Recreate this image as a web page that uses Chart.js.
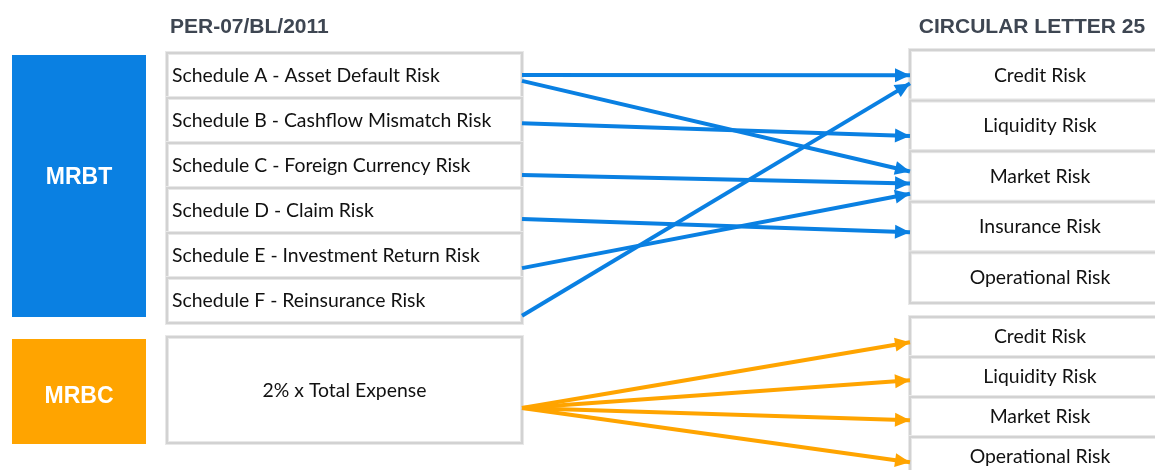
<!DOCTYPE html>
<html>
<head>
<meta charset="utf-8">
<script src="https://cdn.jsdelivr.net/npm/chart.js@4.4.1/dist/chart.umd.min.js"></script>
<style>
html,body{margin:0;padding:0;background:#fff;}
#wrap{width:1155px;height:470px;}
</style>
</head>
<body>
<div id="wrap"><canvas id="c" width="1155" height="470"></canvas></div>
<script>
// ---- data ----
const leftTitle = 'PER-07/BL/2011';
const rightTitle = 'CIRCULAR LETTER 25';
const groupLabels = ['MRBT', 'MRBC'];
const schedules = [
  'Schedule A - Asset Default Risk',
  'Schedule B - Cashflow Mismatch Risk',
  'Schedule C - Foreign Currency Risk',
  'Schedule D - Claim Risk',
  'Schedule E - Investment Return Risk',
  'Schedule F - Reinsurance Risk'
];
const mrbcItems = ['2% x Total Expense'];
const mrbtRisks = ['Credit Risk', 'Liquidity Risk', 'Market Risk', 'Insurance Risk', 'Operational Risk'];
const mrbcRisks = ['Credit Risk', 'Liquidity Risk', 'Market Risk', 'Operational Risk'];
// links: source row -> target row, with anchor position inside each row (0 = top, 1 = bottom)
const mrbtLinkFrom = [0, 0, 1, 2, 3, 4, 5];
const mrbtLinkTo   = [0, 2, 1, 2, 3, 2, 0];
const mrbtFromPos  = [0.49, 0.62, 0.56, 0.71, 0.69, 0.78, 0.84];
const mrbtToPos    = [0.50, 0.40, 0.70, 0.64, 0.60, 0.84, 0.66];
const mrbcLinkFrom = [0, 0, 0, 0];
const mrbcLinkTo   = [0, 1, 2, 3];
const mrbcFromPos  = [0.67, 0.67, 0.67, 0.67];
const mrbcToPos    = [0.63, 0.58, 0.58, 0.63];

// ---- layout (value space of the hidden axes) ----
const L = {
  groupX0: 12, groupX1: 146,
  mrbtY0: 55, mrbtY1: 317, mrbtLabelY: 178,
  mrbcY0: 339, mrbcY1: 444, mrbcLabelY: 397,
  leftX0: 167, leftX1: 522,
  leftTop: 53, leftRowH: 45,
  mrbcBoxY0: 337, mrbcBoxY1: 443,
  rightX0: 910, rightX1: 1162,
  rightTop: 50, rightRowH: 50.6,
  right2Top: 317, right2RowH: 40,
  arrowTipX: 910
};
const BLUE = '#0a80e2';
const ORANGE = '#ffa400';

function leftRowY(i, p){ return L.leftTop + (i + p) * L.leftRowH; }
function rightRowY(i, p){ return L.rightTop + (i + p) * L.rightRowH; }
function right2RowY(i, p){ return L.right2Top + (i + p) * L.right2RowH; }
function mrbcBoxY(p){ return L.mrbcBoxY0 + p * (L.mrbcBoxY1 - L.mrbcBoxY0); }

const datasets = [];
mrbtLinkFrom.forEach((s, k) => {
  datasets.push({
    data: [{x: L.leftX1, y: leftRowY(s, mrbtFromPos[k])}, {x: L.arrowTipX, y: rightRowY(mrbtLinkTo[k], mrbtToPos[k])}],
    borderColor: BLUE, backgroundColor: BLUE, borderWidth: 4, pointRadius: 0, showLine: true, arrow: true
  });
});
mrbcLinkFrom.forEach((s, k) => {
  datasets.push({
    data: [{x: L.leftX1, y: mrbcBoxY(mrbcFromPos[k])}, {x: L.arrowTipX, y: right2RowY(mrbcLinkTo[k], mrbcToPos[k])}],
    borderColor: ORANGE, backgroundColor: ORANGE, borderWidth: 4, pointRadius: 0, showLine: true, arrow: true
  });
});

const BOX_FONT = '19.4px Lato';
const diagramPlugin = {
  id: 'diagram',
  beforeDatasetsDraw(chart){
    const {ctx, scales:{x, y}} = chart;
    const px = v => x.getPixelForValue(v), py = v => y.getPixelForValue(v);
    ctx.save();
    function box(x0, y0, x1, y1){
      const X0 = px(x0), Y0 = py(y0), X1 = px(x1), Y1 = py(y1);
      ctx.fillStyle = '#fff';
      ctx.fillRect(X0, Y0, X1 - X0, Y1 - Y0);
      ctx.strokeStyle = '#e8e8e8'; ctx.lineWidth = 4;
      ctx.strokeRect(X0, Y0, X1 - X0, Y1 - Y0);
      ctx.strokeStyle = '#d2d2d2'; ctx.lineWidth = 2;
      ctx.strokeRect(X0, Y0, X1 - X0, Y1 - Y0);
    }
    // group blocks
    ctx.fillStyle = BLUE;
    ctx.fillRect(px(L.groupX0), py(L.mrbtY0), px(L.groupX1) - px(L.groupX0), py(L.mrbtY1) - py(L.mrbtY0));
    ctx.fillStyle = ORANGE;
    ctx.fillRect(px(L.groupX0), py(L.mrbcY0), px(L.groupX1) - px(L.groupX0), py(L.mrbcY1) - py(L.mrbcY0));
    ctx.fillStyle = '#fff';
    ctx.font = 'bold 23px "Liberation Sans", Arial, sans-serif';
    ctx.textAlign = 'center'; ctx.textBaseline = 'middle';
    const gx = px((L.groupX0 + L.groupX1) / 2);
    ctx.fillText(groupLabels[0], gx, py(L.mrbtLabelY));
    ctx.fillText(groupLabels[1], gx, py(L.mrbcLabelY));
    // titles
    ctx.fillStyle = '#3e4652';
    ctx.font = 'bold 21px "Liberation Sans", Arial, sans-serif';
    ctx.textAlign = 'left';
    ctx.fillText(leftTitle, px(170), py(27));
    ctx.textAlign = 'center';
    ctx.fillText(rightTitle, px(1032), py(27));
    // left boxes
    schedules.forEach((s, i) => box(L.leftX0, leftRowY(i, 0), L.leftX1, leftRowY(i, 1)));
    box(L.leftX0, L.mrbcBoxY0, L.leftX1, L.mrbcBoxY1);
    // right boxes
    mrbtRisks.forEach((s, i) => box(L.rightX0, rightRowY(i, 0), L.rightX1, rightRowY(i, 1)));
    mrbcRisks.forEach((s, i) => box(L.rightX0, right2RowY(i, 0), L.rightX1, right2RowY(i, 1)));
    // texts
    ctx.fillStyle = '#111';
    ctx.font = BOX_FONT;
    ctx.textAlign = 'left';
    schedules.forEach((s, i) => ctx.fillText(s, px(L.leftX0 + 5), py(leftRowY(i, 0.5))));
    ctx.textAlign = 'center';
    ctx.fillText(mrbcItems[0], px((L.leftX0 + L.leftX1) / 2), py((L.mrbcBoxY0 + L.mrbcBoxY1) / 2 + 1));
    mrbtRisks.forEach((s, i) => ctx.fillText(s, px(1040), py(rightRowY(i, 0.5))));
    mrbcRisks.forEach((s, i) => ctx.fillText(s, px(1040), py(right2RowY(i, 0.5))));
    ctx.restore();
  },
  afterDatasetsDraw(chart){
    const ctx = chart.ctx;
    ctx.save();
    chart.data.datasets.forEach((ds, i) => {
      if (!ds.arrow) return;
      const pts = chart.getDatasetMeta(i).data;
      const a = pts[pts.length - 2], b = pts[pts.length - 1];
      const ang = Math.atan2(b.y - a.y, b.x - a.x);
      const len = 15, half = 7;
      ctx.fillStyle = ds.borderColor;
      ctx.beginPath();
      ctx.moveTo(b.x, b.y);
      ctx.lineTo(b.x - len * Math.cos(ang) + half * Math.sin(ang), b.y - len * Math.sin(ang) - half * Math.cos(ang));
      ctx.lineTo(b.x - len * Math.cos(ang) - half * Math.sin(ang), b.y - len * Math.sin(ang) + half * Math.cos(ang));
      ctx.closePath();
      ctx.fill();
    });
    ctx.restore();
  }
};

new Chart(document.getElementById('c'), {
  type: 'line',
  data: { datasets },
  options: {
    responsive: false,
    animation: false,
    layout: { padding: 0 },
    elements: { line: { tension: 0, borderCapStyle: 'butt' } },
    scales: {
      x: { type: 'linear', min: 0, max: 1155, display: false },
      y: { type: 'linear', min: 0, max: 470, reverse: true, display: false }
    },
    plugins: { legend: { display: false }, tooltip: { enabled: false } }
  },
  plugins: [diagramPlugin]
});
</script>
</body>
</html>
